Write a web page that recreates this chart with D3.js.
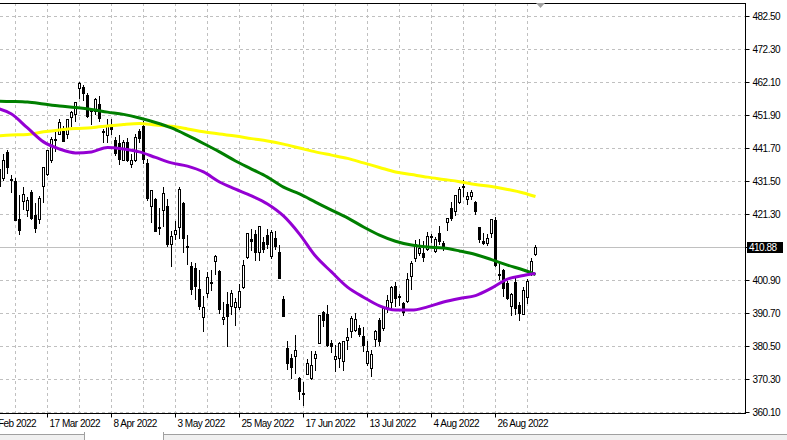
<!DOCTYPE html>
<html><head><meta charset="utf-8">
<script src="https://cdn.jsdelivr.net/npm/d3@7/dist/d3.min.js"></script>
<style>
html,body{margin:0;padding:0;background:#fff;overflow:hidden}
svg{display:block}
text{font-family:"Liberation Sans",Arial,sans-serif;font-size:10px;letter-spacing:-0.5px;fill:#000}
</style></head><body>
<svg id="c" width="787" height="440"></svg>
<script>
const dates = ["2022-02-23","2022-02-24","2022-02-25","2022-02-28","2022-03-01","2022-03-02","2022-03-03","2022-03-04","2022-03-07","2022-03-08","2022-03-09","2022-03-10","2022-03-11","2022-03-14","2022-03-15","2022-03-16","2022-03-17","2022-03-18","2022-03-21","2022-03-22","2022-03-23","2022-03-24","2022-03-25","2022-03-28","2022-03-29","2022-03-30","2022-03-31","2022-04-01","2022-04-04","2022-04-05","2022-04-06","2022-04-07","2022-04-08","2022-04-11","2022-04-12","2022-04-13","2022-04-14","2022-04-18","2022-04-19","2022-04-20","2022-04-21","2022-04-22","2022-04-25","2022-04-26","2022-04-27","2022-04-28","2022-04-29","2022-05-02","2022-05-03","2022-05-04","2022-05-05","2022-05-06","2022-05-09","2022-05-10","2022-05-11","2022-05-12","2022-05-13","2022-05-16","2022-05-17","2022-05-18","2022-05-19","2022-05-20","2022-05-23","2022-05-24","2022-05-25","2022-05-26","2022-05-27","2022-05-31","2022-06-01","2022-06-02","2022-06-03","2022-06-06","2022-06-07","2022-06-08","2022-06-09","2022-06-10","2022-06-13","2022-06-14","2022-06-15","2022-06-16","2022-06-17","2022-06-21","2022-06-22","2022-06-23","2022-06-24","2022-06-27","2022-06-28","2022-06-29","2022-06-30","2022-07-01","2022-07-05","2022-07-06","2022-07-07","2022-07-08","2022-07-11","2022-07-12","2022-07-13","2022-07-14","2022-07-15","2022-07-18","2022-07-19","2022-07-20","2022-07-21","2022-07-22","2022-07-25","2022-07-26","2022-07-27","2022-07-28","2022-07-29","2022-08-01","2022-08-02","2022-08-03","2022-08-04","2022-08-05","2022-08-08","2022-08-09","2022-08-10","2022-08-11","2022-08-12","2022-08-15","2022-08-16","2022-08-17","2022-08-18","2022-08-19","2022-08-22","2022-08-23","2022-08-24","2022-08-25","2022-08-26","2022-08-29","2022-08-30","2022-08-31","2022-09-01","2022-09-02","2022-09-06","2022-09-07","2022-09-08","2022-09-09","2022-09-12"];

const open = [431.89,411.02,429.61,432.03,435.04,432.37,440.47,431.75,431.55,419.62,425.14,422.52,428.12,420.89,419.77,429.89,
433.59,438.00,444.34,445.86,446.91,445.94,451.16,452.06,460.02,460.34,457.89,453.31,453.13,455.22,446.89,445.59,447.97,
444.11,443.08,438.03,443.55,436.81,437.86,446.92,448.54,436.91,423.67,425.83,417.24,422.29,423.59,
412.07,415.01,417.08,424.55,411.10,405.10,404.49,398.07,389.37,396.71,399.98,406.53,403.50,388.62,393.25,392.83,392.56,392.31,398.67,407.91,413.55,
415.17,409.42,412.40,414.78,408.10,413.93,409.34,394.88,379.85,376.85,377.36,370.51,365.51,371.89,370.62,376.64,381.40,391.05,390.23,381.23,376.24,
376.56,375.88,382.11,385.12,385.35,385.85,383.65,375.10,373.61,382.55,388.38,386.08,392.47,394.16,398.92,395.75,393.84,394.36,401.89,407.58,
409.15,409.12,410.30,414.37,409.66,415.25,412.22,418.78,422.99,422.03,424.77,429.97,425.99,426.89,424.98,417.05,412.96,412.11,415.24,419.39,402.20,403.85,399.92,
392.89,400.28,393.13,390.37,395.42,402.74,408.78];

const high = [433.26,428.76,437.84,438.20,437.17,439.72,441.11,433.37,432.30,427.21,429.51,426.43,428.77,424.55,426.84,435.68,
441.07,444.86,446.46,450.58,448.49,450.50,452.98,455.91,462.07,461.20,458.76,453.46,456.91,457.83,447.58,450.69,450.63,
445.00,445.75,444.11,444.73,439.75,445.80,447.57,450.01,438.08,428.69,426.04,422.92,429.64,425.87,
415.92,418.93,429.66,425.00,414.80,406.41,406.08,404.04,395.80,403.18,403.97,408.57,403.80,394.14,397.03,397.73,395.15,399.45,407.04,415.38,416.46,
416.24,417.44,414.04,416.61,416.22,415.82,411.74,395.78,381.81,377.94,383.90,370.94,369.38,376.53,378.72,378.83,390.09,391.36,393.16,382.27,380.66,
381.70,381.98,385.87,389.83,390.64,386.87,386.16,381.92,379.05,385.25,389.09,392.87,396.26,398.84,400.18,396.47,394.06,402.88,406.80,413.03,
413.41,413.00,415.68,415.09,414.15,417.62,412.75,419.99,424.95,427.21,429.40,431.73,428.03,428.49,425.26,417.15,415.42,415.11,419.56,420.13,405.84,404.10,400.58,
396.78,401.56,394.12,398.59,401.00,407.51,411.73];

const low = [421.35,410.64,427.86,430.70,427.11,431.57,433.80,427.88,419.36,415.12,422.82,420.44,419.53,415.79,418.42,424.80,
433.19,437.22,440.68,445.86,443.71,444.76,448.43,450.06,457.18,456.47,451.16,449.14,452.26,449.82,443.48,443.53,445.94,
439.39,436.65,437.84,437.68,435.61,437.68,443.48,437.10,425.44,418.84,416.07,415.01,417.60,411.21,
405.02,413.36,413.71,409.44,405.73,396.50,394.82,391.96,385.15,395.61,397.60,402.58,390.55,387.11,380.54,390.38,386.96,391.89,398.45,407.70,410.03,
406.93,407.04,409.51,410.55,407.61,410.38,401.44,389.75,373.30,370.59,372.12,364.08,362.17,371.81,370.18,372.89,381.37,386.50,380.53,378.42,372.56,
373.80,372.90,379.60,383.27,385.19,383.50,378.99,374.66,371.04,380.54,380.66,385.39,391.03,391.63,392.75,393.21,389.95,394.05,398.15,406.77,
408.40,406.82,410.00,412.44,409.60,411.83,410.22,416.22,419.21,421.03,424.71,426.88,424.17,425.75,421.22,412.44,412.00,411.77,414.09,405.25,401.20,395.99,394.83,
390.04,390.33,388.42,390.20,393.66,402.46,408.46];

const close = [421.95,428.30,437.75,436.63,429.98,437.89,435.71,432.17,419.43,416.25,427.41,425.48,420.07,417.00,426.17,435.62,
441.07,444.52,444.39,449.59,443.80,450.49,452.69,455.91,461.55,458.70,451.64,452.92,456.80,451.03,446.52,448.77,447.57,
439.92,438.29,443.31,437.79,437.97,445.04,444.71,438.06,426.04,428.51,416.10,417.27,427.81,412.00,
414.48,416.38,429.06,413.81,411.34,398.17,399.09,392.75,392.34,401.72,400.09,408.32,391.86,389.46,389.63,396.92,393.89,397.37,405.31,415.26,412.93,
409.59,417.39,410.54,411.79,415.74,411.22,401.44,389.80,375.00,373.87,379.20,366.65,365.86,375.07,374.39,378.06,390.08,388.59,380.65,380.34,377.25,
381.24,381.96,383.25,388.99,388.67,384.23,380.83,378.83,377.91,385.13,381.95,392.27,394.77,398.79,395.09,395.57,390.89,401.04,406.07,411.99,
410.77,408.06,414.45,414.17,413.47,412.99,411.35,419.99,419.99,427.10,428.86,429.70,426.65,427.89,422.14,413.35,412.35,413.67,419.51,405.31,402.63,398.21,395.18,
396.42,392.24,390.76,397.78,400.38,406.60,410.88];

// moving averages, at every 4th bar
const maDates = ["2022-02-28","2022-03-04","2022-03-10","2022-03-16","2022-03-22","2022-03-28","2022-04-01","2022-04-07","2022-04-13","2022-04-20","2022-04-26","2022-05-02","2022-05-06","2022-05-12","2022-05-18","2022-05-24","2022-05-31","2022-06-06","2022-06-10","2022-06-16","2022-06-23","2022-06-29","2022-07-06","2022-07-12","2022-07-18","2022-07-22","2022-07-28","2022-08-03","2022-08-09","2022-08-15","2022-08-19","2022-08-25","2022-08-31","2022-09-07","2022-09-12"];
const maSlow = [445.3,445.6,445.8,446.6,447.2,447.6,447.9,448.4,448.9,449.2,448.7,448.3,447.5,446.6,445.9,445.3,444.5,443.8,442.8,441.6,440.4,439.4,438.4,437.0,435.6,434.2,433.4,432.6,431.9,431.2,430.3,429.7,428.8,427.7,426.6];
const maMid = [456.1,456.0,455.8,455.2,454.6,454.1,453.5,452.7,452.0,450.9,449.5,447.8,445.5,443.0,440.4,437.6,435.1,432.6,429.5,427.4,424.9,422.4,420.0,417.2,414.7,412.8,411.6,411.0,410.7,409.8,408.7,407.1,405.4,403.9,402.5];
const maFast = [454.0,452.1,447.8,443.5,441.3,440.1,440.4,441.8,441.3,440.4,438.7,437.0,436.0,434.2,431.1,428.9,426.8,424.3,420.6,415.0,408.2,403.3,398.6,395.5,392.8,391.5,391.5,392.5,394.0,395.1,396.0,398.3,401.1,402.2,402.8];

const priceTicks = [360.10,370.30,380.50,390.70,400.90,411.10,421.30,431.50,441.70,451.90,462.10,472.30,482.50];
const lastPrice = 410.88;

const W = 787, H = 440;
const P = {left:0, right:745, top:3, bottom:413};
const svg = d3.select("#c");
const parse = d3.timeParse("%Y-%m-%d");
const fmt = d3.timeFormat("%-d %b %Y");

const x = d3.scalePoint().domain(dates).range([-17, -17 + 4*(dates.length-1)]);
const y = d3.scaleLinear().domain([360.1, 482.5]).range([411.7, 15.7]);

svg.append("defs").append("clipPath").attr("id","clip")
  .append("rect").attr("x",P.left).attr("y",P.top).attr("width",P.right-P.left).attr("height",P.bottom-P.top);

// grid
const grid = svg.append("g").attr("clip-path","url(#clip)").attr("shape-rendering","crispEdges");
grid.selectAll("line.h").data(priceTicks).join("line")
  .attr("x1",P.left).attr("x2",P.right)
  .attr("y1",d=>Math.round(y(d))+0.5).attr("y2",d=>Math.round(y(d))+0.5)
  .attr("stroke","#c0c0c0").attr("stroke-dasharray","3,3");
const gridDates = dates.filter((d,i)=>i%8===0);
grid.selectAll("line.v").data(gridDates).join("line")
  .attr("x1",d=>Math.round(x(d))+0.5).attr("x2",d=>Math.round(x(d))+0.5)
  .attr("y1",P.top).attr("y2",P.bottom)
  .attr("stroke","#c0c0c0").attr("stroke-dasharray","3,3");

// bid line
const yb = Math.round(y(lastPrice))+0.5;
grid.append("line").attr("x1",P.left).attr("x2",P.right).attr("y1",yb).attr("y2",yb).attr("stroke","#c0c0c0");

// candles
const bars = dates.map((d,i)=>({d, o:open[i], h:high[i], l:low[i], c:close[i]}));
const cg = svg.append("g").attr("clip-path","url(#clip)").attr("shape-rendering","crispEdges");
cg.selectAll("line.w").data(bars).join("line")
  .attr("x1",b=>Math.round(x(b.d))+0.5).attr("x2",b=>Math.round(x(b.d))+0.5)
  .attr("y1",b=>Math.round(y(b.h))).attr("y2",b=>Math.round(y(b.l))+1)
  .attr("stroke","#000");
cg.selectAll("rect.b").data(bars).join("rect")
  .each(function(b){
    const cx = Math.round(x(b.d));
    const t = Math.round(y(Math.max(b.o,b.c))), bt = Math.round(y(Math.min(b.o,b.c)));
    const s = d3.select(this);
    if (b.c >= b.o) {
      s.attr("x",cx-0.5).attr("y",t+0.5).attr("width",2).attr("height",Math.max(bt-t,1))
       .attr("fill","#fff").attr("stroke","#000");
    } else {
      s.attr("x",cx-1).attr("y",t).attr("width",3).attr("height",Math.max(bt-t,1)+1)
       .attr("fill","#000");
    }
  });

// moving averages
const lg = svg.append("g").attr("clip-path","url(#clip)");
const line = d3.line().x(d=>x(d.d)+0.5).y(d=>y(d.v)).curve(d3.curveMonotoneX);
[[maSlow,"#ffff00"],[maMid,"#007f00"],[maFast,"#9400d3"]].forEach(([arr,col])=>{
  lg.append("path").datum(maDates.map((d,i)=>({d, v:arr[i]})))
    .attr("d",line).attr("fill","none").attr("stroke",col).attr("stroke-width",3)
    .attr("stroke-linejoin","round");
});

// frame
const fr = svg.append("g").attr("shape-rendering","crispEdges");
fr.append("line").attr("x1",0).attr("x2",P.right+1).attr("y1",P.top+0.5).attr("y2",P.top+0.5).attr("stroke","#000");

// right axis
const ra = svg.append("g").attr("transform",`translate(${P.right+0.5},0)`)
  .call(d3.axisRight(y).tickValues(priceTicks).tickSize(4).tickPadding(3).tickFormat(d3.format(".2f")));
ra.select(".domain").attr("d",`M0,${P.top}V${P.bottom+1}`).attr("stroke","#000");
ra.selectAll(".tick line").attr("stroke","#000");
ra.selectAll(".tick").attr("transform",d=>`translate(0,${Math.round(y(d))+0.5})`);
ra.selectAll("text").attr("font-family",null).attr("font-size",null).attr("fill","#000");
// the last-price tag covers the tick label that sits under it
ra.selectAll(".tick").filter(d=>Math.abs(y(d)-y(lastPrice))<9).select("text").remove();

// bottom axis
const labDates = dates.filter((d,i)=>i%16===0);
const ba = svg.append("g").attr("transform",`translate(0,${P.bottom+0.5})`)
  .call(d3.axisBottom(x).tickValues(labDates).tickSize(4).tickFormat(d=>fmt(parse(d))));
ba.select(".domain").attr("d",`M0,0H${P.right+1}`).attr("stroke","#000");
ba.selectAll(".tick").attr("transform",d=>`translate(${Math.round(x(d))+0.5},0)`);
ba.selectAll(".tick line").attr("stroke","#000");
ba.selectAll("text").attr("font-family",null).attr("font-size",null).attr("fill","#000")
  .attr("text-anchor","start").attr("x",2).attr("y",6).attr("dy","0.71em");

// last price tag
const tag = svg.append("g").attr("shape-rendering","crispEdges");
tag.append("rect").attr("x",747).attr("y",yb-5.5).attr("width",36).attr("height",11).attr("fill","#000");
tag.append("text").attr("x",749).attr("y",yb+3.5).style("fill","#fff").text(lastPrice.toFixed(2));

// chart-shift marker
svg.append("path").attr("d","M536,3L545,3L540.5,8Z").attr("fill","#a0a0a0");

// bottom tab strip
const tb = svg.append("g").attr("shape-rendering","crispEdges");
tb.append("rect").attr("x",0).attr("y",434).attr("width",W).attr("height",6).attr("fill","#f0f0f0");
tb.append("line").attr("x1",0).attr("x2",84).attr("y1",434.5).attr("y2",434.5).attr("stroke","#a0a0a0");
tb.append("line").attr("x1",163).attr("x2",W).attr("y1",434.5).attr("y2",434.5).attr("stroke","#a0a0a0");
tb.append("rect").attr("x",84).attr("y",432).attr("width",79).attr("height",8).attr("fill","#fff");
tb.append("line").attr("x1",84.5).attr("x2",84.5).attr("y1",432).attr("y2",440).attr("stroke","#a0a0a0");
tb.append("line").attr("x1",163.5).attr("x2",163.5).attr("y1",432).attr("y2",440).attr("stroke","#a0a0a0");
</script>
</body></html>
